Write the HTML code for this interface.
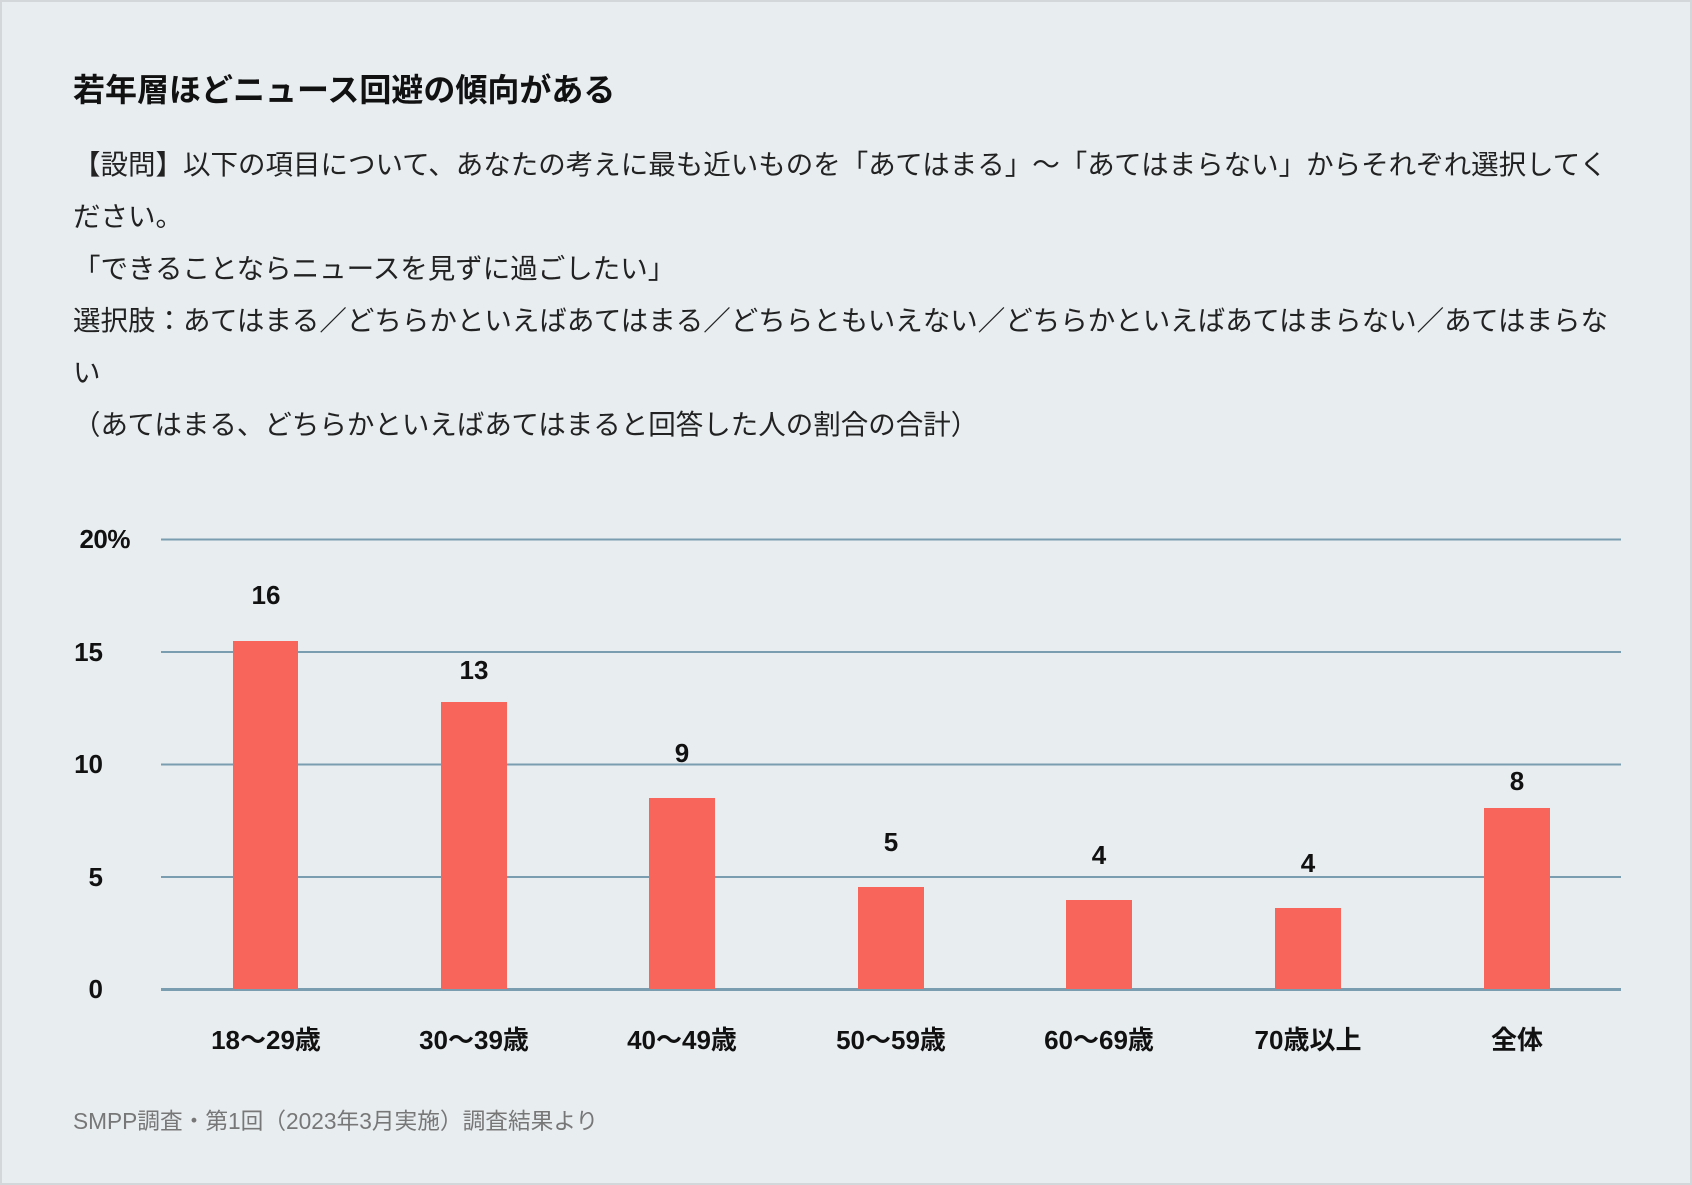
<!DOCTYPE html>
<html><head><meta charset="utf-8"><style>
body{margin:0;width:1692px;height:1185px;overflow:hidden;background:#e8edf0;}
svg{display:block}
text{font-family:"Liberation Sans","Noto Sans CJK JP",sans-serif;}
</style></head><body>
<svg width="1692" height="1185" xmlns="http://www.w3.org/2000/svg">
<rect x="1" y="1" width="1690" height="1183" fill="#e8edf0" stroke="#d4d7d9" stroke-width="2"/>
<text x="73" y="101" font-size="32" font-weight="bold" fill="#111">若年層ほどニュース回避の傾向がある</text>
<g font-size="27.5" fill="#222">
<text x="73" y="174">【設問】以下の項目について、あなたの考えに最も近いものを「あてはまる」～「あてはまらない」からそれぞれ選択してく</text>
<text x="73" y="226">ださい。</text>
<text x="73" y="278">「できることならニュースを見ずに過ごしたい」</text>
<text x="73" y="330">選択肢：あてはまる／どちらかといえばあてはまる／どちらともいえない／どちらかといえばあてはまらない／あてはまらな</text>
<text x="73" y="382">い</text>
<text x="73" y="434">（あてはまる、どちらかといえばあてはまると回答した人の割合の合計）</text>
</g>
<g stroke="#7a9db0" stroke-width="2">
<line x1="161" y1="539.5" x2="1621" y2="539.5"/>
<line x1="161" y1="652" x2="1621" y2="652"/>
<line x1="161" y1="764.5" x2="1621" y2="764.5"/>
<line x1="161" y1="877" x2="1621" y2="877"/>
<line x1="161" y1="989.5" x2="1621" y2="989.5" stroke-width="3"/>
</g>
<g font-size="26" font-weight="bold" fill="#111" text-anchor="end">
<text x="130" y="541" dominant-baseline="middle" letter-spacing="-0.5">20%</text>
<text x="103" y="654" dominant-baseline="middle">15</text>
<text x="103" y="766" dominant-baseline="middle">10</text>
<text x="103" y="879" dominant-baseline="middle">5</text>
<text x="103" y="991" dominant-baseline="middle">0</text>
</g>
<g fill="#f8655b">
<rect x="233" y="641" width="65" height="348"/>
<rect x="441" y="702" width="66" height="287"/>
<rect x="649" y="798" width="66" height="191"/>
<rect x="858" y="887" width="66" height="102"/>
<rect x="1066" y="900" width="66" height="89"/>
<rect x="1275" y="908" width="66" height="81"/>
<rect x="1484" y="808" width="66" height="181"/>
</g>
<g font-size="26" font-weight="bold" fill="#111" text-anchor="middle" dominant-baseline="middle">
<text x="266" y="597">16</text>
<text x="474" y="672">13</text>
<text x="682" y="755">9</text>
<text x="891" y="844">5</text>
<text x="1099" y="857">4</text>
<text x="1308" y="865">4</text>
<text x="1517" y="783">8</text>
<text x="266" y="1042">18〜29歳</text>
<text x="474" y="1042">30〜39歳</text>
<text x="682" y="1042">40〜49歳</text>
<text x="891" y="1042">50〜59歳</text>
<text x="1099" y="1042">60〜69歳</text>
<text x="1308" y="1042">70歳以上</text>
<text x="1517" y="1042">全体</text>
</g>
<text x="73" y="1129" font-size="22.7" fill="#777">SMPP調査・第1回（2023年3月実施）調査結果より</text>
</svg>
</body></html>
